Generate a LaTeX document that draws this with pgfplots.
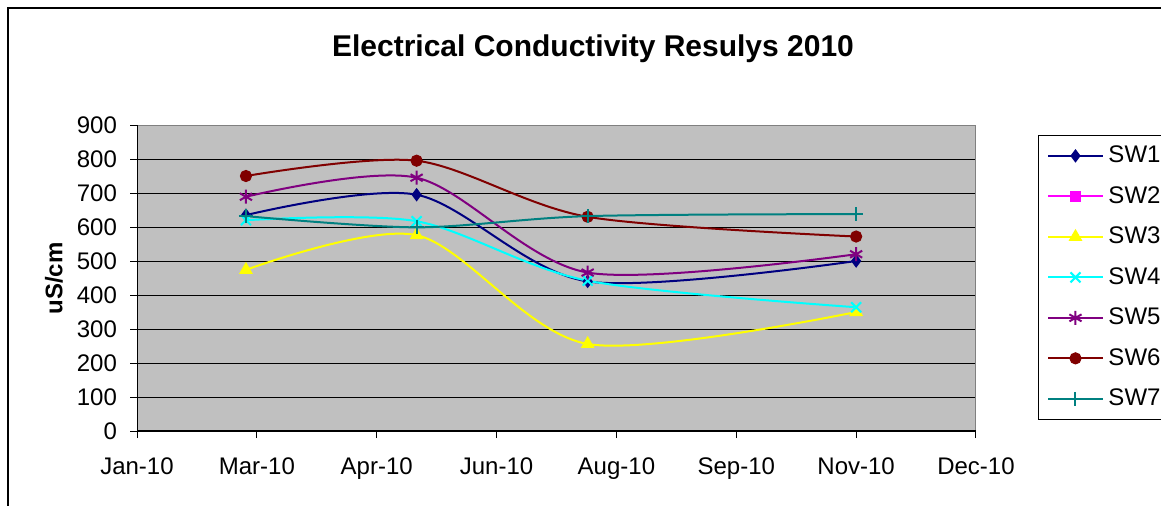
\documentclass[border=0pt]{standalone}
\usepackage{pgfplots}
\pgfplotsset{compat=1.18}
\usepackage{fontspec}
\setmainfont{Liberation Sans}
\definecolor{plotbg}{HTML}{C0C0C0}
\definecolor{sw1}{HTML}{000080}
\definecolor{sw2}{HTML}{FF00FF}
\definecolor{sw3}{HTML}{FFFF00}
\definecolor{sw4}{HTML}{00FFFF}
\definecolor{sw5}{HTML}{800080}
\definecolor{sw6}{HTML}{800000}
\definecolor{sw7}{HTML}{008080}
\begin{document}
\begin{tikzpicture}[x=1pt,y=1pt]
\useasboundingbox (0,0) rectangle (580.5,252.5);
% outer chart frame
\draw[black, line width=0.75pt] (4,-5) -- (4,248.5) -- (590,248.5);
% title
\node[anchor=base, font=\bfseries\fontsize{15}{18}\selectfont] at (296.5,224.5) {Electrical Conductivity Resulys 2010};
% y label
\node[rotate=90, font=\bfseries\fontsize{12}{14}\selectfont] at (27,113.25) {uS/cm};
\begin{axis}[
  at={(68.5pt,37pt)}, anchor=south west,
  scale only axis, width=419.5pt, height=153pt,
  xmin=0, xmax=7, ymin=0, ymax=900,
  xtick={0,1,2,3,4,5,6,7},
  xticklabels={Jan-10,Mar-10,Apr-10,Jun-10,Aug-10,Sep-10,Nov-10,Dec-10},
  ytick={0,100,...,900},
  xtick pos=bottom, ytick pos=left,
  tick align=outside, major tick length=3.5pt,
  tick style={black, line width=0.5pt},
  ymajorgrids, grid style={black, line width=0.5pt},
  axis background/.style={fill=plotbg},
  axis line style={draw=gray, line width=0.5pt},
  /pgf/number format/assume math mode=true,
  ticklabel style={font=\fontsize{12}{14}\selectfont},
  yticklabel style={xshift=-3pt},
  xticklabel style={yshift=-6.5pt},
  legend style={draw=black, line width=0.5pt, fill=white, at={(1.0739,0.967)}, anchor=north west,
    inner xsep=4.5pt, inner ysep=0pt, row sep=0pt, column sep=2.5pt,
    nodes={inner sep=0pt, minimum height=20.25pt}, font=\fontsize{12}{14}\selectfont},
  legend cell align=left,
  legend image code/.code={\draw[mark repeat=2, mark phase=2] plot coordinates {(0pt,0pt) (13.5pt,0pt) (27pt,0pt)};},
  every axis plot/.append style={line width=1pt, smooth, tension=0.5},
]
\addplot[sw1, mark=diamond*, mark size=3pt, mark options={solid, fill=sw1, line width=0.5pt}] coordinates {(0.909,635) (2.333,695) (3.760,440) (6.0,500)};
\addlegendentry{SW1}
\addlegendimage{sw2, line width=1pt, mark=square*, mark size=2.5pt, mark options={solid, fill=sw2, line width=0.5pt}}
\addlegendentry{SW2}
\addplot[sw3, mark=triangle*, mark size=3.5pt, mark options={solid, fill=sw3, line width=0.5pt}] coordinates {(0.909,474) (2.333,576) (3.760,256) (6.0,350)};
\addlegendentry{SW3}
\addplot[sw4, mark=x, mark size=3.5pt, mark options={solid, line width=1pt}] coordinates {(0.909,620) (2.333,617) (3.760,442) (6.0,364)};
\addlegendentry{SW4}
\addplot[sw5, mark=asterisk, mark size=3.5pt, mark options={solid, line width=1pt}] coordinates {(0.909,689) (2.333,745) (3.760,466) (6.0,520)};
\addlegendentry{SW5}
\addplot[sw6, mark=*, mark size=2.8pt, mark options={solid, fill=sw6, line width=0.5pt}] coordinates {(0.909,750) (2.333,795) (3.760,630) (6.0,572)};
\addlegendentry{SW6}
\addplot[sw7, mark=+, mark size=3.5pt, mark options={solid, line width=1pt}] coordinates {(0.909,632) (2.333,599) (3.760,632) (6.0,638)};
\addlegendentry{SW7}
\draw[black, line width=0.75pt] (rel axis cs:0,1) -- (rel axis cs:0,0) -- (rel axis cs:1,0);
\end{axis}
\end{tikzpicture}
\end{document}
